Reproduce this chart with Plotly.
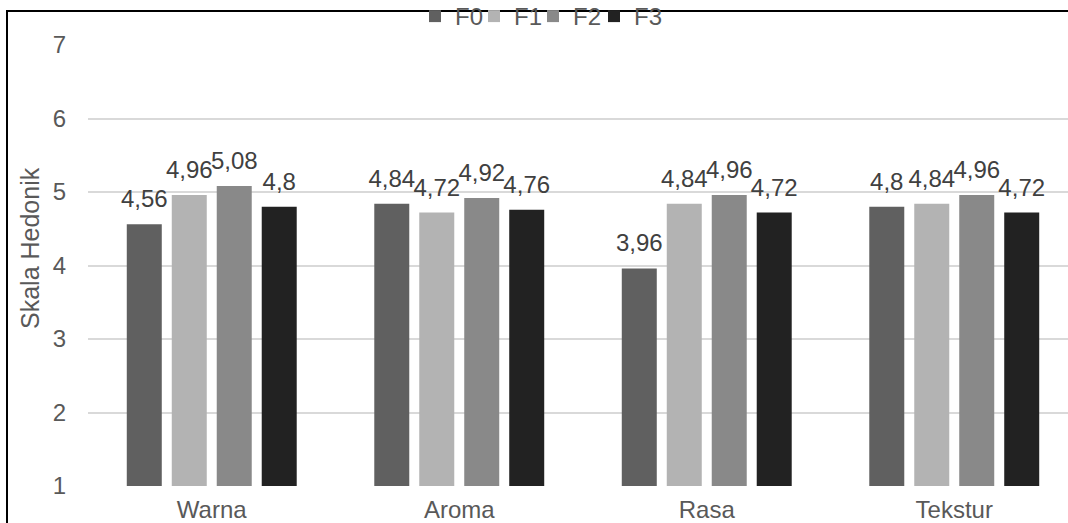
import plotly.graph_objects as go

categories = ["Warna", "Aroma", "Rasa", "Tekstur"]
series_names = ["F0", "F1", "F2", "F3"]
f0 = [4.56, 4.84, 3.96, 4.8]
f1 = [4.96, 4.72, 4.84, 4.84]
f2 = [5.08, 4.92, 4.96, 4.96]
f3 = [4.8, 4.76, 4.72, 4.72]
y_ticks = [1, 2, 3, 4, 5, 6, 7]

colors = ["#606060", "#b3b3b3", "#898989", "#222222"]
FONT = "Liberation Sans, Arial, sans-serif"
FS = 24
BARGAP = 0.273

def fmt(v):
    return ("%g" % v).replace(".", ",")

SHIFT = 7                      # page is scrolled up by this many pixels
W, H = 1068, 523 + SHIFT
L, R, T, B = 88, 0, 45 + SHIFT, 37
pw = W - L - R
ph = H - T - B

def px(sx):
    return (sx - L) / pw

def py(sy):
    return (H - B - (sy + SHIFT)) / ph

legend_lefts = [415, 474, 533, 594]
legend_ids = ["legend", "legend2", "legend3", "legend4"]
all_vals = [f0, f1, f2, f3]

fig = go.Figure()
for i, (name, vals, col, lid) in enumerate(zip(series_names, all_vals, colors, legend_ids)):
    fig.add_trace(go.Bar(
        name=name, x=categories, y=vals, marker=dict(color=col, line=dict(width=0)),
        legend=lid, offsetgroup=str(i), hoverinfo="skip",
    ))
for i, (name, vals) in enumerate(zip(series_names, all_vals)):
    fig.add_trace(go.Scatter(
        name=name + " label", x=categories, y=vals, mode="markers+text",
        marker=dict(size=16, color="rgba(0,0,0,0)"),
        text=[fmt(v) for v in vals], textposition="top center", cliponaxis=False,
        textfont=dict(family=FONT, size=FS, color="#404040"),
        offsetgroup=str(i), showlegend=False, hoverinfo="skip",
    ))

legend_layout = {}
for lid, lx in zip(legend_ids, legend_lefts):
    legend_layout[lid] = dict(orientation="h", x=px(lx), xanchor="left", y=py(-SHIFT + 1),
                              yanchor="top", font=dict(size=FS, color="#595959", family=FONT),
                              itemwidth=30, bgcolor="rgba(0,0,0,0)")

fig.update_layout(
    width=W, height=H,
    margin=dict(l=L, r=R, t=T, b=B, pad=0),
    paper_bgcolor="white", plot_bgcolor="white",
    barmode="group", bargap=BARGAP, bargroupgap=0.222,
    scattermode="group", scattergap=BARGAP,
    font=dict(family=FONT, size=FS, color="#595959"),
    showlegend=True,
    xaxis=dict(range=[-0.5, -0.5 + pw / 247.5], showgrid=False, showline=False,
               ticks="", tickfont=dict(size=FS, color="#595959"), ticklabelstandoff=7,
               automargin=False),
    yaxis=dict(range=[1, 7], tickvals=y_ticks, showgrid=True, gridcolor="#d9d9d9",
               gridwidth=1.5, zeroline=False, showline=False, ticks="",
               tickfont=dict(size=FS, color="#595959"), ticklabelstandoff=21,
               automargin=False),
    **legend_layout,
)

fig.add_annotation(text="Skala Hedonik", textangle=-90, xref="paper", yref="paper",
                   x=px(30), y=py(248), xanchor="center", yanchor="middle",
                   showarrow=False, font=dict(size=25, color="#595959", family=FONT))

fig.add_shape(type="rect", xref="paper", yref="paper",
              x0=px(7), x1=1.05, y0=py(540), y1=py(11),
              line=dict(color="black", width=2), fillcolor="rgba(0,0,0,0)", layer="above")

fig.write_html("out.html", config={"displayModeBar": False},
               post_script="document.body.style.margin='0px';"
                           "document.body.style.marginTop='-%dpx';" % SHIFT)
